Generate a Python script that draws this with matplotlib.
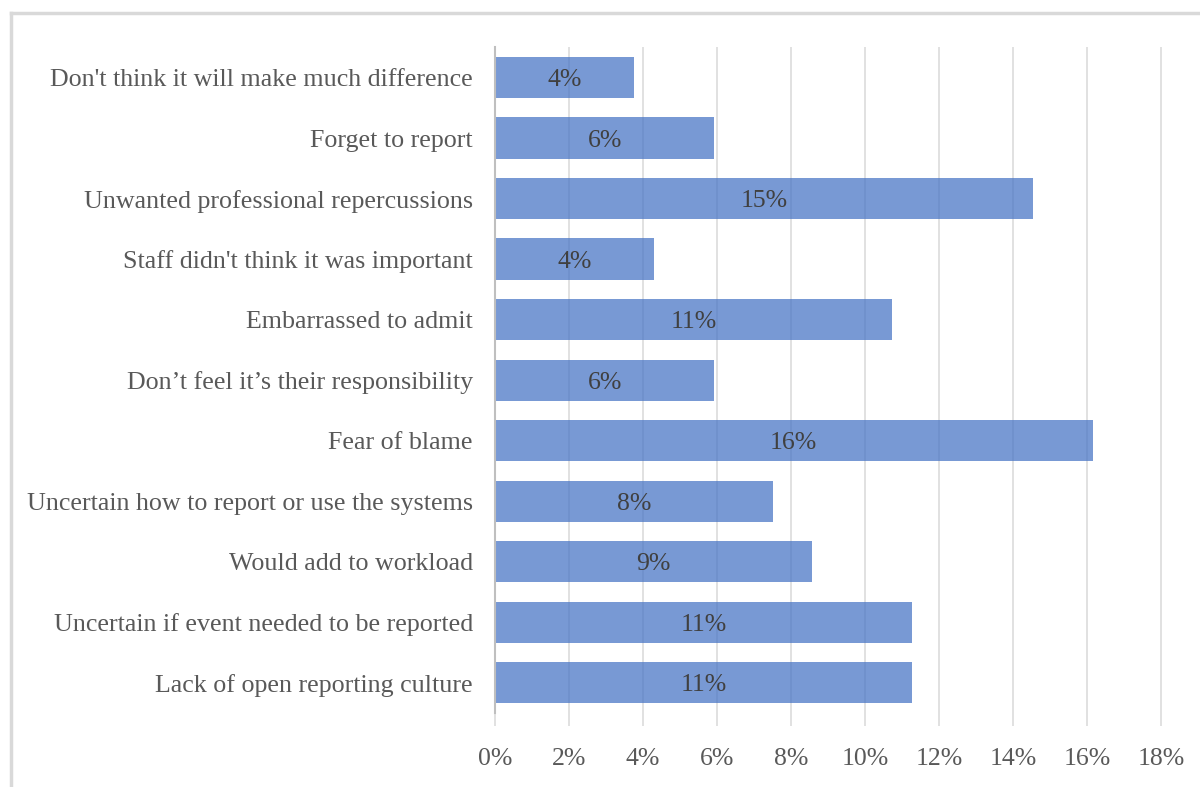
import matplotlib
matplotlib.use('Agg')
import matplotlib.pyplot as plt
from matplotlib.lines import Line2D
from matplotlib.ticker import FuncFormatter

# Reasons for not reporting, top to bottom as shown
categories = [
    "Don't think it will make much difference",
    "Forget to report",
    "Unwanted professional repercussions",
    "Staff didn't think it was important",
    "Embarrassed to admit",
    "Don\u2019t feel it\u2019s their responsibility",
    "Fear of blame",
    "Uncertain how to report or use the systems",
    "Would add to workload",
    "Uncertain if event needed to be reported",
    "Lack of open reporting culture",
]
values = [3.76, 5.92, 14.52, 4.30, 10.73, 5.92, 16.14, 7.51, 8.57, 11.27, 11.27]
x_ticks = [0, 2, 4, 6, 8, 10, 12, 14, 16, 18]

plt.rcParams['font.family'] = ['Liberation Serif', 'DejaVu Serif']
text_color = '#595959'

fig = plt.figure(figsize=(12, 7.87), dpi=100)
ax = fig.add_axes([0.4125, 0.094, 0.556, 0.846])

y_pos = list(range(len(categories)))
ax.barh(y_pos, values, height=0.68, color='#4472C4', alpha=0.72,
        edgecolor='none', zorder=2)

for y, v in zip(y_pos, values):
    ax.text(v / 2, y, f"{round(v):.0f}%", ha='center', va='center_baseline',
            fontsize=18.5, color='#404040', zorder=3)

ax.set_ylim(len(categories) - 0.5, -0.5)
ax.set_xlim(0, 18.02)
ax.set_yticks(y_pos)
ax.set_yticklabels(categories, fontsize=18.7, color=text_color)
ax.set_xticks(x_ticks)
ax.xaxis.set_major_formatter(FuncFormatter(lambda v, p: f"{v:.0f}%"))
ax.tick_params(axis='x', labelsize=18.5, labelcolor=text_color, length=9,
               color='#d9d9d9', width=1.1, pad=16)
ax.tick_params(axis='y', length=0, pad=16)

ax.grid(True, axis='x', color='#d9d9d9', linewidth=1.1, zorder=0)
ax.set_axisbelow(True)
for side in ['top', 'right', 'bottom']:
    ax.spines[side].set_visible(False)
ax.spines['left'].set_color('#bfbfbf')
ax.spines['left'].set_linewidth(1.5)

# outer chart frame (only top and left visible in crop)
fig.add_artist(Line2D([0.009, 1.0], [0.984, 0.984], color='#d9d9d9', linewidth=2.5,
                      transform=fig.transFigure))
fig.add_artist(Line2D([0.009, 0.009], [0.0, 0.984], color='#d9d9d9', linewidth=2.5,
                      transform=fig.transFigure))

fig.savefig('out.png', dpi=100)
